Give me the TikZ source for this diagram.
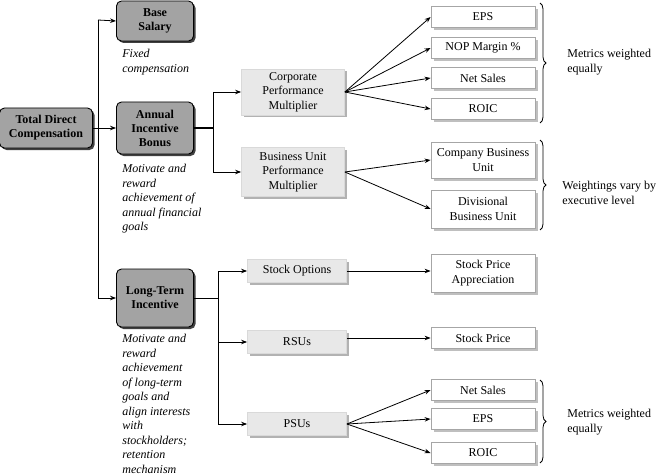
\documentclass[tikz,border=0pt]{standalone}
\usepackage{fontspec}
\setmainfont{Liberation Serif}
\usetikzlibrary{shadows,decorations.pathreplacing,arrows.meta}

\begin{document}
\begin{tikzpicture}[
    x=1pt, y=-1pt,
    every node/.style={font=\fontsize{12}{14.5}\selectfont},
    mainbox/.style={
        rectangle,
        rounded corners=5pt,
        draw=black,
        line width=0.9pt,
        fill=gray!72,
        align=center,
        font=\fontsize{12}{14}\selectfont\bfseries,
        minimum width=77pt,
        inner sep=2pt,
        drop shadow={shadow xshift=2pt, shadow yshift=-2pt, fill=black!75, opacity=1}
    },
    multbox/.style={
        rectangle,
        draw=gray!30,
        fill=gray!18,
        align=center,
        minimum width=103pt,
        inner sep=2pt,
        drop shadow={shadow xshift=2.5pt, shadow yshift=-2.5pt, fill=gray!60, opacity=1}
    },
    metric/.style={
        rectangle,
        draw=gray!70,
        fill=white,
        align=center,
        minimum width=104pt,
        minimum height=21pt,
        inner sep=2pt,
        drop shadow={shadow xshift=2.5pt, shadow yshift=-2.5pt, fill=gray!50, opacity=1}
    },
    desc/.style={
        anchor=north west,
        inner sep=0pt,
        align=left,
        font=\fontsize{12}{14.5}\selectfont\itshape
    },
    note/.style={anchor=west, inner sep=0pt, align=left},
    curly/.style={decorate, decoration={brace, amplitude=6pt}, line width=0.8pt},
    line width=0.8pt,
    >={Stealth[length=6pt,width=4.5pt]}
]
\useasboundingbox (0,0) rectangle (661,476);

% Hoofdblokken
\node[mainbox, minimum width=93pt, minimum height=40pt] (tdc) at (46,128) {Total Direct\\Compensation};
\node[mainbox, minimum height=40pt] (base) at (155,21) {Base\\Salary};
\node[mainbox, minimum height=52pt] (aib) at (155,128) {Annual\\Incentive\\Bonus};
\node[mainbox, minimum height=58pt] (lti) at (155,298) {Long-Term\\Incentive};

% Omschrijvingen
\node[desc] (baseTxt) at (122,49) {Fixed\\compensation};
\node[desc] (aibTxt) at (122,164) {Motivate and\\reward\\achievement of\\annual financial\\goals};
\node[desc] (ltiTxt) at (122,334) {Motivate and\\reward\\achievement\\of long-term\\goals and\\align interests\\with\\stockholders;\\retention\\mechanism};

% Multipliers en LTI-vormen
\node[multbox, minimum height=46pt] (corp) at (293,92) {Corporate\\Performance\\Multiplier};
\node[multbox, minimum height=49pt] (bu) at (293,172) {Business Unit\\Performance\\Multiplier};
\node[multbox, minimum width=99pt, minimum height=23pt] (sopt) at (297,271) {Stock Options};
\node[multbox, minimum width=99pt, minimum height=23pt] (rsu) at (297,342) {RSUs};
\node[multbox, minimum width=99pt, minimum height=23pt] (psu) at (297,424) {PSUs};

% Metrics
\node[metric] (eps) at (483,17) {EPS};
\node[metric] (nop) at (483,48) {NOP Margin \%};
\node[metric] (nsales) at (483,78) {Net Sales};
\node[metric] (roic) at (483,109) {ROIC};
\node[metric, minimum height=36pt] (cbu) at (483,160) {Company Business\\Unit};
\node[metric, minimum height=38pt] (dbu) at (483,209) {Divisional\\Business Unit};
\node[metric, minimum height=38pt] (spa) at (483,273) {Stock Price\\Appreciation};
\node[metric] (sp) at (483,338) {Stock Price};
\node[metric] (nsales2) at (483,390) {Net Sales};
\node[metric] (eps2) at (483,419) {EPS};
\node[metric] (roic2) at (483,453) {ROIC};

% Verbindingen
\coordinate (sTop) at (98,20);
\coordinate (sBot) at (98,298);
\draw (sTop) -- (sBot);
\draw[->] (sTop) -- (base.west);
\draw[->] (tdc.east) -- (aib.west);
\draw[->] (sBot) -- (lti.west);

\coordinate (aSplit) at (213,128);
\draw[line width=1.4pt] (aib.east) -- (aSplit);
\draw (aSplit |- corp) -- (aSplit |- bu);
\draw[->] (aSplit |- corp) -- (corp.west);
\draw[->] (aSplit |- bu) -- (bu.west);

\coordinate (lSplit) at (218,298);
\draw (lti.east) -- (lSplit);
\draw (lSplit |- sopt) -- (lSplit |- psu);
\foreach \j in {sopt,rsu,psu}
    \draw[->] (lSplit |- \j) -- (\j.west);

\foreach \j in {eps,nop,nsales,roic}
    \draw[->] (corp.east) -- (\j.west);
\foreach \j in {cbu,dbu}
    \draw[->] (bu.east) -- (\j.west);
\draw[->] (sopt.east) -- (sopt.east -| spa.west);
\draw[->] (rsu.east |- sp) -- (sp.west);
\foreach \j in {nsales2,eps2,roic2}
    \draw[->] (psu.east) -- (\j.west);

% Accolades
\draw[curly] (540,3) -- (540,123);
\draw[curly] (540,140) -- (540,230);
\draw[curly] (540,380) -- (540,463);
\node[note] (lbl1) at (567,62) {Metrics weighted\\equally};
\node[note] (lbl2) at (562,193) {Weightings vary by\\executive level};
\node[note] (lbl3) at (567,422) {Metrics weighted\\equally};

\end{tikzpicture}
\end{document}
